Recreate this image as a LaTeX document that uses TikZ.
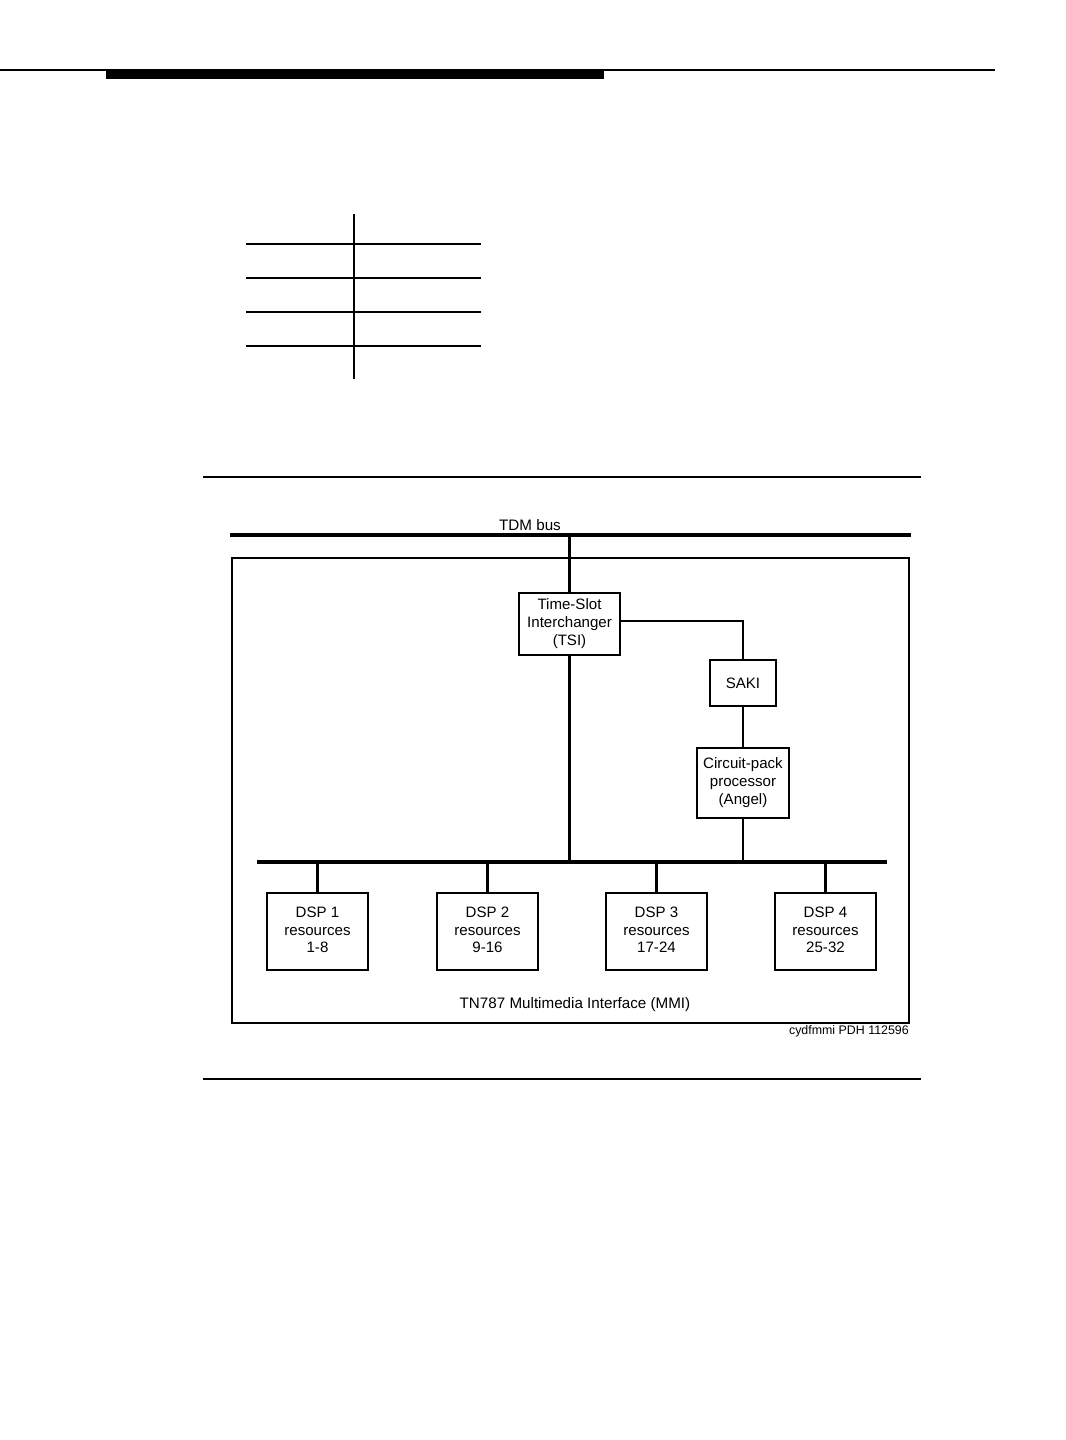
\documentclass[tikz,border=0pt]{standalone}
\usepackage{fontspec}
\setmainfont{Liberation Sans}
\begin{document}
\begin{tikzpicture}[x=0.75pt,y=-0.75pt,
  box/.style={draw,line width=0.8pt,align=center,inner sep=0pt,font=\fontsize{11.3}{13.3}\selectfont},
  conn/.style={line width=1.6pt},
  bus/.style={line width=2.3pt},
  rule/.style={line width=1.1pt},
  tab/.style={line width=1.3pt},
  lbl/.style={font=\fontsize{11.4}{13.3}\selectfont,inner sep=0pt}]
\useasboundingbox (0,0) rectangle (1066,1440);
% page header
\coordinate (hl) at (0,70); \coordinate (hr) at (995,70);
\draw[line width=1.2pt] (hl) -- (hr);
\fill (106,70) rectangle (604,79);
% table skeleton
\coordinate (tv1) at (354,214); \coordinate (tv2) at (354,379);
\draw[tab] (tv1) -- (tv2);
\foreach \yy in {244,278,312,346}{\draw[tab] (246,\yy) -- (481,\yy);}
% figure rules
\draw[rule] (203,477) -- (921,477);
\draw[rule] (203,1079) -- (921,1079);
% TDM bus
\coordinate (tdmL) at (230,535); \coordinate (tdmR) at (911,535);
\draw[bus] (tdmL) -- (tdmR);
\node[lbl,anchor=base] (tdmlbl) at (530,530) {TDM bus};
% outer box
\draw[line width=0.8pt] (232,558) rectangle (909,1023);
% nodes
\node[box,minimum width=75.75pt,minimum height=46.5pt] (tsi) at (569.5,624) {\strut Time-Slot\\\strut Interchanger\\\strut (TSI)};
\node[box,minimum width=49.5pt,minimum height=34.5pt] (saki) at (743,683) {SAKI};
\node[box,minimum width=69pt,minimum height=52.5pt] (circ) at (743,783) {\strut Circuit-pack\\\strut processor\\\strut (Angel)};
\foreach \i/\xx/\r in {1/317.5/1-8,2/487.5/9-16,3/656.5/17-24,4/825.5/25-32}{
  \node[box,minimum width=75.75pt,minimum height=57.75pt] (dsp\i) at (\xx,931.5) {\strut DSP \i\\\strut resources\\\strut \r};
}
% lower bus
\coordinate (busL) at (257,862); \coordinate (busR) at (887,862);
\draw[bus] (busL) -- (busR);
% connectors
\draw[conn] (tsi.north) -- (tsi.north |- tdmL);
\draw[conn] ([yshift=2.25pt]tsi.east) -| (saki.north);
\draw[conn] (saki.south) -- (circ.north);
\draw[conn] (circ.south) -- (circ.south |- busL);
\draw[conn] (tsi.south) -- (tsi.south |- busL);
\foreach \i in {1,...,4}{\draw[conn] (dsp\i.north) -- (dsp\i.north |- busL);}
% labels
\node[lbl,anchor=base] (mmi) at (575,1008) {TN787 Multimedia Interface (MMI)};
\node[font=\fontsize{9.3}{11}\selectfont,inner sep=0pt,anchor=base east] (cap) at (909,1034) {cydfmmi PDH 112596};
\end{tikzpicture}
\end{document}
